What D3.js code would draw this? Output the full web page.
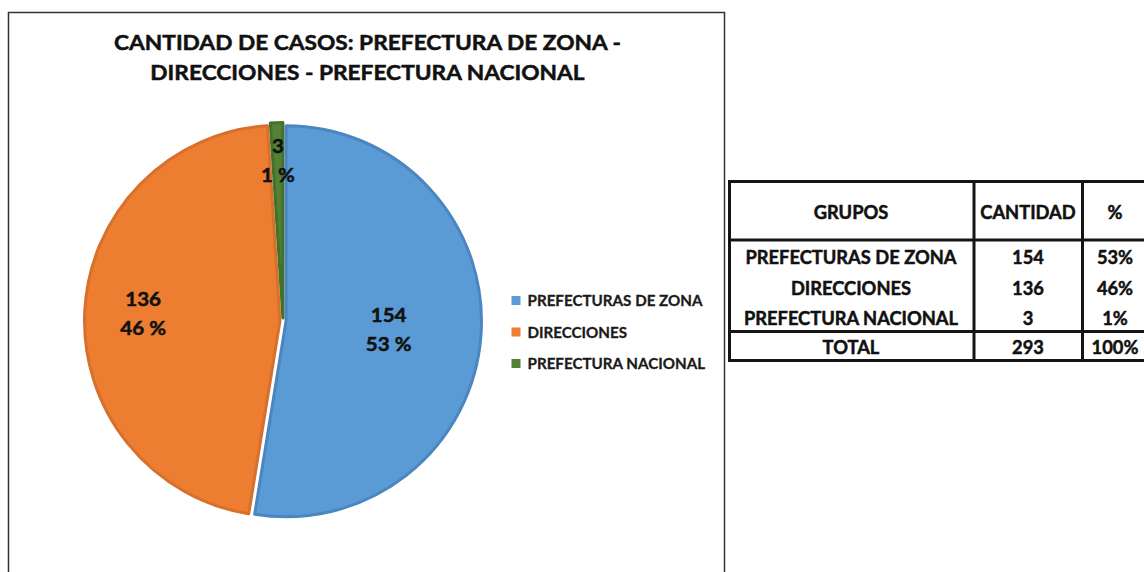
<!DOCTYPE html>
<html><head><meta charset="utf-8">
<script src="https://cdn.jsdelivr.net/npm/d3@7"></script>
<style>body{margin:0;background:#fff;overflow:hidden} svg{display:block}</style>
</head><body>
<svg id="c" width="1144" height="572"></svg>
<script>
// ---------- data ----------
const titleLines = ["CANTIDAD DE CASOS: PREFECTURA DE ZONA -", "DIRECCIONES - PREFECTURA NACIONAL"];
const categories = ["PREFECTURAS DE ZONA", "DIRECCIONES", "PREFECTURA NACIONAL"];
const values = [154, 136, 3];
const pieLabelPct = ["53 %", "46 %", "1 %"];
const tableHeader = ["GRUPOS", "CANTIDAD", "%"];
const tableGroups = ["PREFECTURAS DE ZONA", "DIRECCIONES", "PREFECTURA NACIONAL"];
const tablePct = ["53%", "46%", "1%"];
const totalLabel = "TOTAL";
const totalValue = 293;
const totalPct = "100%";
const colors = ["#5B9BD5", "#ED7D31", "#548235"];
const borderColors = ["#4A86BF", "#D6702B", "#44702B"];

// ---------- helpers ----------
const svg = d3.select("#c");
const FONT = "Lato, 'Open Sans', sans-serif";
function condense(sel, factor) {
  sel.each(function () {
    const w = this.getComputedTextLength();
    d3.select(this).attr("textLength", w * factor).attr("lengthAdjust", "spacingAndGlyphs");
  });
}
function heavy(sel, col, w) {
  sel.attr("stroke", col).attr("stroke-width", w).attr("paint-order", "stroke");
}

// ---------- chart frame ----------
svg.append("rect").attr("x", 8.5).attr("y", 12.5).attr("width", 716).attr("height", 580)
  .attr("fill", "#fff").attr("stroke", "#333").attr("stroke-width", 1.5);

// ---------- title ----------
const titleG = svg.append("g");
titleLines.forEach((t, i) => {
  titleG.append("text").attr("x", 367.5).attr("y", 50 + i * 30)
    .attr("text-anchor", "middle").attr("font-family", FONT).attr("font-weight", 700)
    .attr("font-size", 21).attr("fill", "#111").text(t);
});
const t1 = titleG.selectAll("text").nodes()[0];
const titleFactor = 507 / t1.getComputedTextLength();
condense(titleG.selectAll("text"), titleFactor);
heavy(titleG.selectAll("text"), "#111", 0.5);

// ---------- pie ----------
const cx = 283, cy = 321, R = 197, explode = 3;
const pie = d3.pie().sort(null).value(d => d).startAngle(0).endAngle(2 * Math.PI);
const arcs = pie(values);
const arc = d3.arc().innerRadius(0).outerRadius(R - 1.5);
const pieG = svg.append("g").attr("transform", `translate(${cx},${cy})`);
pieG.selectAll("path").data(arcs).enter().append("path")
  .attr("d", arc)
  .attr("transform", d => {
    const m = (d.startAngle + d.endAngle) / 2;
    return `translate(${Math.sin(m) * explode},${-Math.cos(m) * explode})`;
  })
  .attr("fill", (d, i) => colors[i])
  .attr("stroke", (d, i) => borderColors[i])
  .attr("stroke-width", 3)
  .attr("stroke-linejoin", "round");

// data labels (Excel best-fit radii per slice)
const labelRadius = [106, 140, 160];
const labelG = pieG.append("g");
arcs.forEach((d, i) => {
  const m = (d.startAngle + d.endAngle) / 2;
  const lx = Math.sin(m) * labelRadius[i], ly = -Math.cos(m) * labelRadius[i];
  const lines = [String(values[i]), pieLabelPct[i]];
  lines.forEach((s, j) => {
    labelG.append("text").attr("x", lx).attr("y", ly - 8 + j * 29)
      .attr("text-anchor", "middle").attr("font-family", FONT).attr("font-weight", 700)
      .attr("font-size", 19).attr("fill", "#111").text(s);
  });
});
condense(labelG.selectAll("text"), titleFactor);
heavy(labelG.selectAll("text"), "#111", 0.5);

// ---------- legend ----------
const legG = svg.append("g");
categories.forEach((c, i) => {
  const y = 300.5 + i * 31.5;
  legG.append("rect").attr("x", 511.5).attr("y", y - 4.5).attr("width", 9).attr("height", 9)
    .attr("fill", colors[i]);
  legG.append("text").attr("x", 527.5).attr("y", y + 5.5).attr("font-family", FONT)
    .attr("font-weight", 700).attr("font-size", 15.5).attr("fill", "#1a1a1a").text(c);
});
const legFactor = 175 / legG.selectAll("text").nodes()[0].getComputedTextLength();
condense(legG.selectAll("text"), legFactor);
heavy(legG.selectAll("text"), "#1a1a1a", 0.3);

// ---------- table ----------
const colX = [729.5, 974, 1082.5, 1148];
const colC = [851, 1028, 1115];
const rowYs = { top: 181.5, head: 240, total: 331.5, bottom: 360.5 };
const tblG = svg.append("g");
const tblText = tblG.append("g");
function cell(txt, x, y) {
  tblText.append("text").attr("x", x).attr("y", y).attr("text-anchor", "middle")
    .attr("font-family", FONT).attr("font-weight", 700).attr("font-size", 19)
    .attr("fill", "#111").text(txt);
}
tableHeader.forEach((h, i) => cell(h, colC[i], 219));
tableGroups.forEach((g, i) => {
  const y = 264 + i * 30.5;
  cell(g, colC[0], y);
  cell(String(values[i]), colC[1], y);
  cell(tablePct[i], colC[2], y);
});
cell(totalLabel, colC[0], 354);
cell(String(totalValue), colC[1], 354);
cell(totalPct, colC[2], 354);
const tblFactor = 211 / tblText.selectAll("text").nodes()[3].getComputedTextLength();
condense(tblText.selectAll("text"), tblFactor);
heavy(tblText.selectAll("text"), "#111", 0.5);

const lineC = "#151515", lw = 3;
[rowYs.top, rowYs.head, rowYs.total, rowYs.bottom].forEach(y => {
  tblG.append("line").attr("x1", colX[0] - 1.5).attr("x2", colX[3]).attr("y1", y).attr("y2", y)
    .attr("stroke", lineC).attr("stroke-width", lw);
});
colX.forEach(x => {
  tblG.append("line").attr("x1", x).attr("x2", x).attr("y1", rowYs.top - 1.5).attr("y2", rowYs.bottom + 1.5)
    .attr("stroke", lineC).attr("stroke-width", lw);
});
</script>
</body></html>
